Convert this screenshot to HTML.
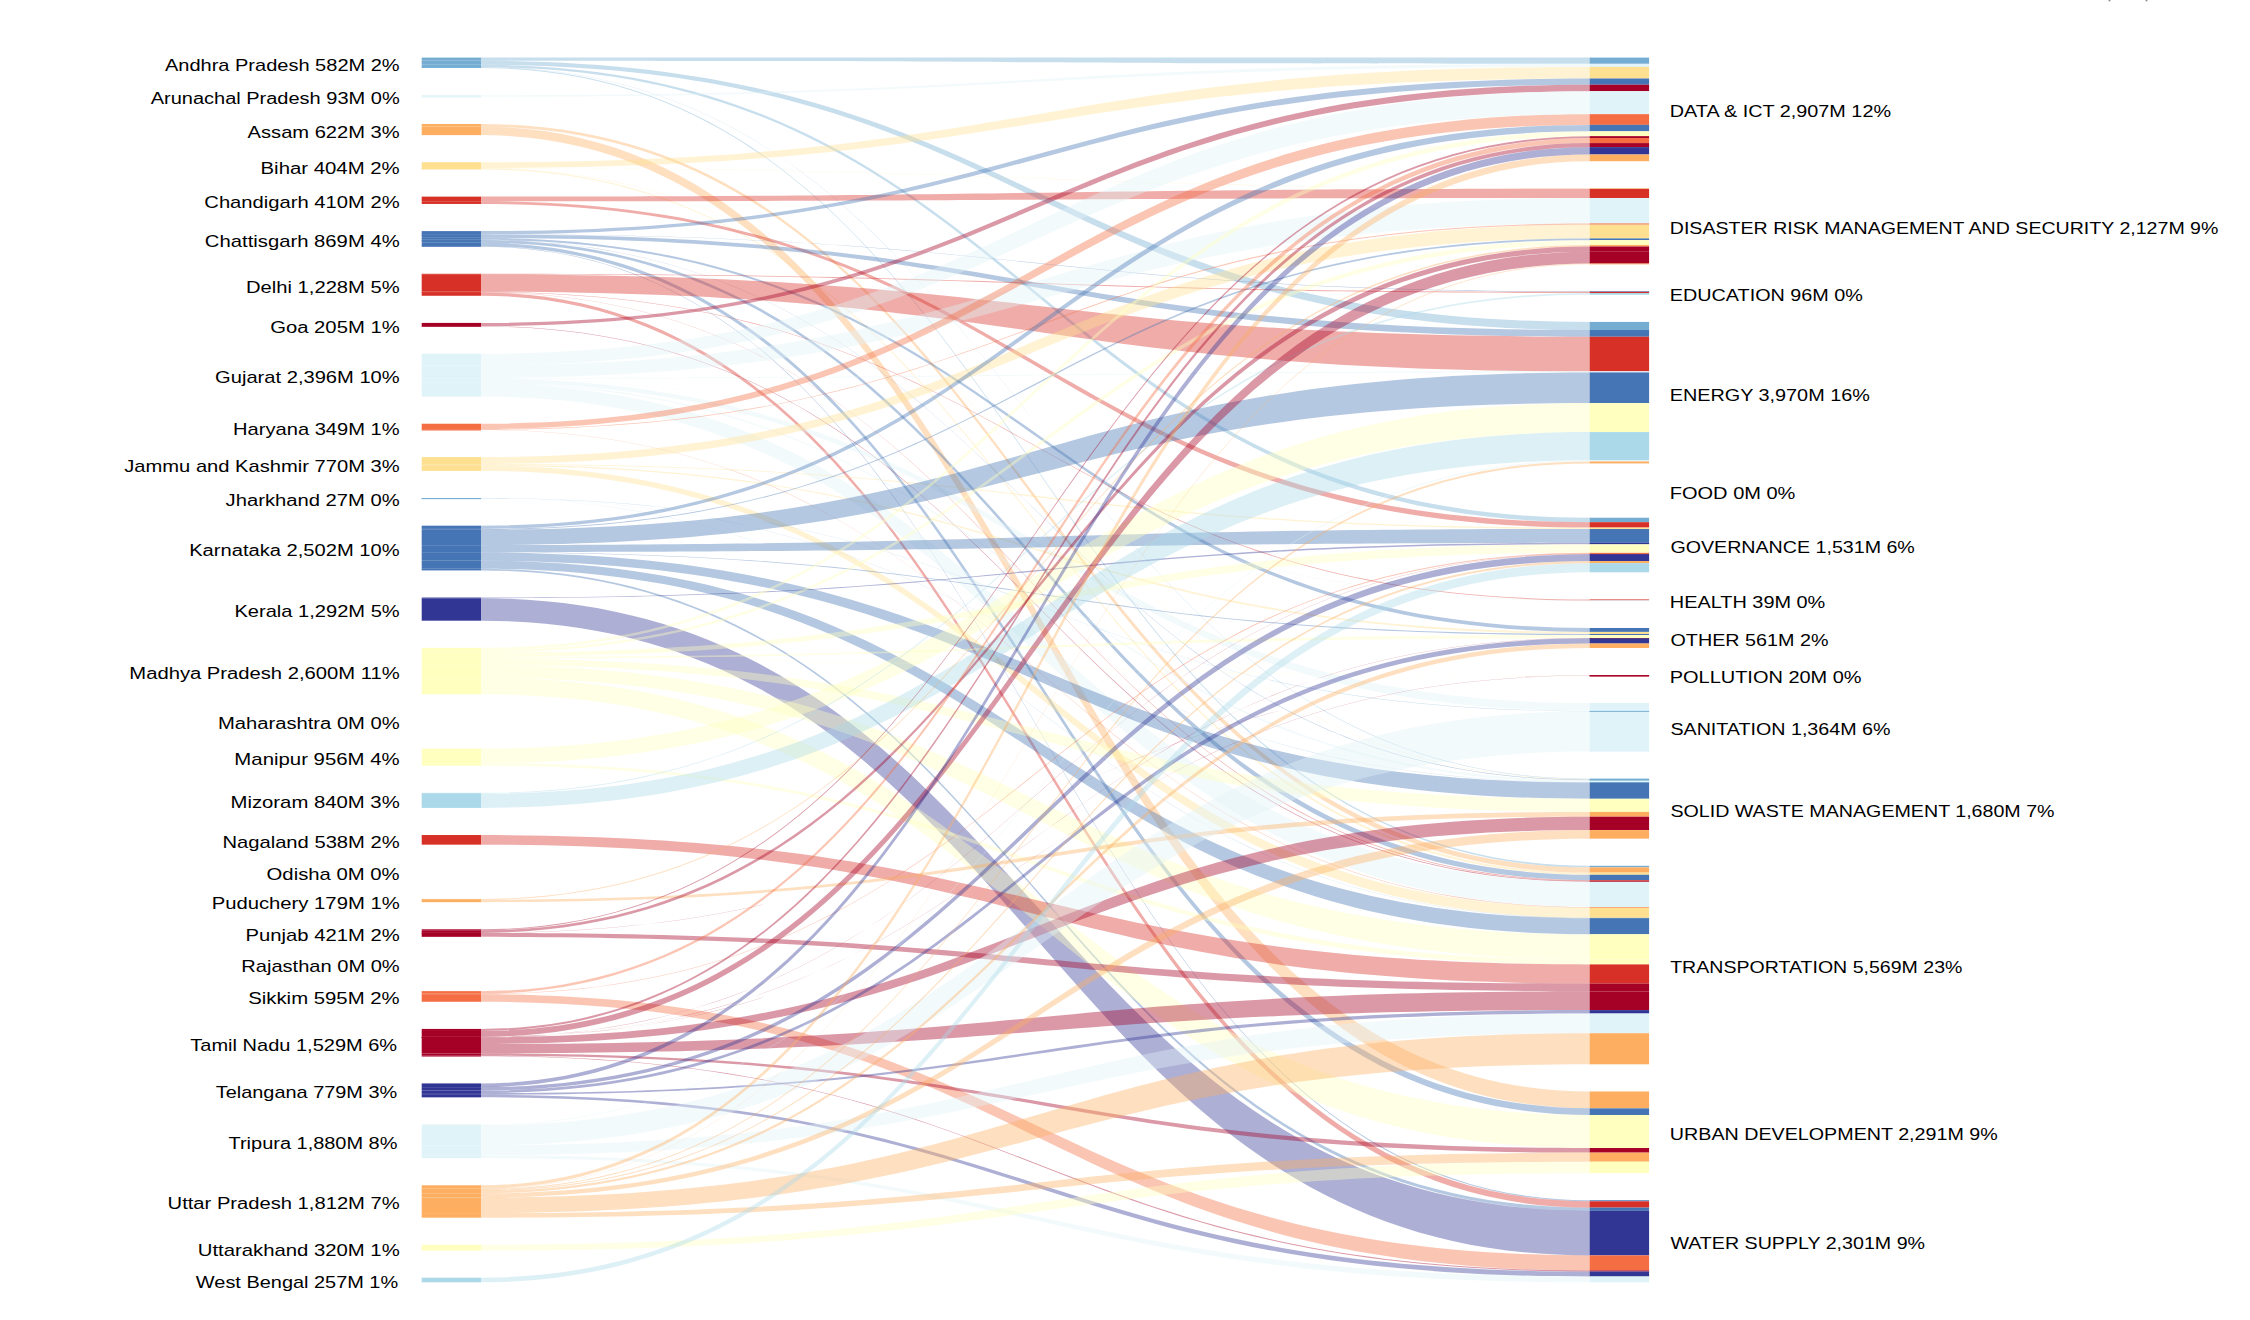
<!DOCTYPE html>
<html><head><meta charset="utf-8"><title>Sankey</title>
<style>
html,body{margin:0;padding:0;background:#fff;}
body{width:2250px;height:1320px;overflow:hidden;}
svg{display:block;position:absolute;left:0;top:0;}
.links path{fill-opacity:.4;stroke:none;}
.labels text{font-family:"Liberation Sans",Arial,Helvetica,sans-serif;font-size:16px;fill:#000;}
</style></head><body>
<svg width="2250" height="1320" viewBox="0 0 2250 1320">
<g class="links">
<path d="M481,57.6C1035.3,57.6 1035.3,57.6 1589.6,57.6L1589.6,63.82C1035.3,63.82 1035.3,60.72 481,60.72Z" fill="#74add1"/>
<path d="M481,60.72C1035.3,60.72 1035.3,321.91 1589.6,321.91L1589.6,330.02C1035.3,330.02 1035.3,64.79 481,64.79Z" fill="#74add1"/>
<path d="M481,64.79C1035.3,64.79 1035.3,517.73 1589.6,517.73L1589.6,522.18C1035.3,522.18 1035.3,67.02 481,67.02Z" fill="#74add1"/>
<path d="M481,67.02C1035.3,67.02 1035.3,778.77 1589.6,778.77L1589.6,779.18C1035.3,779.18 1035.3,67.22 481,67.22Z" fill="#74add1"/>
<path d="M481,67.22C1035.3,67.22 1035.3,865.8 1589.6,865.8L1589.6,867.37C1035.3,867.37 1035.3,68.01 481,68.01Z" fill="#74add1"/>
<path d="M481,95.16C1035.3,95.16 1035.3,63.82 1589.6,63.82L1589.6,66.93C1035.3,66.93 1035.3,96.72 481,96.72Z" fill="#e0f3f8"/>
<path d="M481,96.72C1035.3,96.72 1035.3,779.18 1589.6,779.18L1589.6,779.38C1035.3,779.38 1035.3,96.82 481,96.82Z" fill="#e0f3f8"/>
<path d="M481,123.97C1035.3,123.97 1035.3,867.37 1589.6,867.37L1589.6,872.64C1035.3,872.64 1035.3,126.62 481,126.62Z" fill="#fdae61"/>
<path d="M481,126.62C1035.3,126.62 1035.3,1091.47 1589.6,1091.47L1589.6,1108.37C1035.3,1108.37 1035.3,135.1 481,135.1Z" fill="#fdae61"/>
<path d="M481,162.25C1035.3,162.25 1035.3,66.93 1589.6,66.93L1589.6,78.49C1035.3,78.49 1035.3,168.04 481,168.04Z" fill="#fee090"/>
<path d="M481,168.04C1035.3,168.04 1035.3,188.37 1589.6,188.37L1589.6,188.78C1035.3,188.78 1035.3,168.25 481,168.25Z" fill="#fee090"/>
<path d="M481,168.25C1035.3,168.25 1035.3,779.38 1589.6,779.38L1589.6,779.67C1035.3,779.67 1035.3,168.4 481,168.4Z" fill="#fee090"/>
<path d="M481,168.4C1035.3,168.4 1035.3,872.64 1589.6,872.64L1589.6,874.78C1035.3,874.78 1035.3,169.47 481,169.47Z" fill="#fee090"/>
<path d="M481,196.62C1035.3,196.62 1035.3,188.78 1589.6,188.78L1589.6,197.99C1035.3,197.99 1035.3,201.24 481,201.24Z" fill="#d73027"/>
<path d="M481,201.24C1035.3,201.24 1035.3,522.18 1589.6,522.18L1589.6,527.58C1035.3,527.58 1035.3,203.95 481,203.95Z" fill="#d73027"/>
<path d="M481,231.1C1035.3,231.1 1035.3,78.49 1589.6,78.49L1589.6,84.7C1035.3,84.7 1035.3,234.22 481,234.22Z" fill="#4575b4"/>
<path d="M481,234.22C1035.3,234.22 1035.3,291.34 1589.6,291.34L1589.6,291.84C1035.3,291.84 1035.3,234.47 481,234.47Z" fill="#4575b4"/>
<path d="M481,234.47C1035.3,234.47 1035.3,330.02 1589.6,330.02L1589.6,336.73C1035.3,336.73 1035.3,237.84 481,237.84Z" fill="#4575b4"/>
<path d="M481,237.84C1035.3,237.84 1035.3,627.99 1589.6,627.99L1589.6,631.91C1035.3,631.91 1035.3,239.81 481,239.81Z" fill="#4575b4"/>
<path d="M481,239.81C1035.3,239.81 1035.3,779.67 1589.6,779.67L1589.6,780.17C1035.3,780.17 1035.3,240.05 481,240.05Z" fill="#4575b4"/>
<path d="M481,240.05C1035.3,240.05 1035.3,874.78 1589.6,874.78L1589.6,880.22C1035.3,880.22 1035.3,242.79 481,242.79Z" fill="#4575b4"/>
<path d="M481,242.79C1035.3,242.79 1035.3,1108.37 1589.6,1108.37L1589.6,1115.02C1035.3,1115.02 1035.3,246.13 481,246.13Z" fill="#4575b4"/>
<path d="M481,246.13C1035.3,246.13 1035.3,1200.28 1589.6,1200.28L1589.6,1201.31C1035.3,1201.31 1035.3,246.64 481,246.64Z" fill="#4575b4"/>
<path d="M481,273.79C1035.3,273.79 1035.3,291.84 1589.6,291.84L1589.6,292.98C1035.3,292.98 1035.3,274.37 481,274.37Z" fill="#d73027"/>
<path d="M481,274.37C1035.3,274.37 1035.3,336.73 1589.6,336.73L1589.6,371.3C1035.3,371.3 1035.3,291.71 481,291.71Z" fill="#d73027"/>
<path d="M481,291.71C1035.3,291.71 1035.3,599.45 1589.6,599.45L1589.6,600.4C1035.3,600.4 1035.3,292.19 481,292.19Z" fill="#d73027"/>
<path d="M481,292.19C1035.3,292.19 1035.3,880.22 1589.6,880.22L1589.6,881.02C1035.3,881.02 1035.3,292.59 481,292.59Z" fill="#d73027"/>
<path d="M481,292.59C1035.3,292.59 1035.3,1201.31 1589.6,1201.31L1589.6,1207.63C1035.3,1207.63 1035.3,295.76 481,295.76Z" fill="#d73027"/>
<path d="M481,322.91C1035.3,322.91 1035.3,84.7 1589.6,84.7L1589.6,91.18C1035.3,91.18 1035.3,326.16 481,326.16Z" fill="#a50026"/>
<path d="M481,326.16C1035.3,326.16 1035.3,881.02 1589.6,881.02L1589.6,881.84C1035.3,881.84 1035.3,326.57 481,326.57Z" fill="#a50026"/>
<path d="M481,353.72C1035.3,353.72 1035.3,91.18 1589.6,91.18L1589.6,114.16C1035.3,114.16 1035.3,365.25 481,365.25Z" fill="#e0f3f8"/>
<path d="M481,365.25C1035.3,365.25 1035.3,197.99 1589.6,197.99L1589.6,223.45C1035.3,223.45 1035.3,378.03 481,378.03Z" fill="#e0f3f8"/>
<path d="M481,378.03C1035.3,378.03 1035.3,371.3 1589.6,371.3L1589.6,372.44C1035.3,372.44 1035.3,378.6 481,378.6Z" fill="#e0f3f8"/>
<path d="M481,378.6C1035.3,378.6 1035.3,600.4 1589.6,600.4L1589.6,600.84C1035.3,600.84 1035.3,378.82 481,378.82Z" fill="#e0f3f8"/>
<path d="M481,378.82C1035.3,378.82 1035.3,703 1589.6,703L1589.6,710.94C1035.3,710.94 1035.3,382.8 481,382.8Z" fill="#e0f3f8"/>
<path d="M481,382.8C1035.3,382.8 1035.3,780.17 1589.6,780.17L1589.6,782.34C1035.3,782.34 1035.3,383.89 481,383.89Z" fill="#e0f3f8"/>
<path d="M481,383.89C1035.3,383.89 1035.3,881.84 1589.6,881.84L1589.6,907.12C1035.3,907.12 1035.3,396.57 481,396.57Z" fill="#e0f3f8"/>
<path d="M481,423.72C1035.3,423.72 1035.3,114.16 1589.6,114.16L1589.6,124.88C1035.3,124.88 1035.3,429.1 481,429.1Z" fill="#f46d43"/>
<path d="M481,429.1C1035.3,429.1 1035.3,223.45 1589.6,223.45L1589.6,224.67C1035.3,224.67 1035.3,429.71 481,429.71Z" fill="#f46d43"/>
<path d="M481,429.71C1035.3,429.71 1035.3,907.12 1589.6,907.12L1589.6,907.62C1035.3,907.62 1035.3,429.96 481,429.96Z" fill="#f46d43"/>
<path d="M481,457.11C1035.3,457.11 1035.3,224.67 1589.6,224.67L1589.6,238.42C1035.3,238.42 1035.3,464.01 481,464.01Z" fill="#fee090"/>
<path d="M481,464.01C1035.3,464.01 1035.3,527.58 1589.6,527.58L1589.6,529.01C1035.3,529.01 1035.3,464.73 481,464.73Z" fill="#fee090"/>
<path d="M481,464.73C1035.3,464.73 1035.3,631.91 1589.6,631.91L1589.6,633.95C1035.3,633.95 1035.3,465.75 481,465.75Z" fill="#fee090"/>
<path d="M481,465.75C1035.3,465.75 1035.3,907.62 1589.6,907.62L1589.6,917.85C1035.3,917.85 1035.3,470.88 481,470.88Z" fill="#fee090"/>
<path d="M481,498.03C1035.3,498.03 1035.3,710.94 1589.6,710.94L1589.6,711.3C1035.3,711.3 1035.3,498.21 481,498.21Z" fill="#74add1"/>
<path d="M481,498.21C1035.3,498.21 1035.3,782.34 1589.6,782.34L1589.6,782.59C1035.3,782.59 1035.3,498.34 481,498.34Z" fill="#74add1"/>
<path d="M481,498.34C1035.3,498.34 1035.3,917.85 1589.6,917.85L1589.6,918.21C1035.3,918.21 1035.3,498.52 481,498.52Z" fill="#74add1"/>
<path d="M481,525.67C1035.3,525.67 1035.3,124.88 1589.6,124.88L1589.6,131.32C1035.3,131.32 1035.3,528.9 481,528.9Z" fill="#4575b4"/>
<path d="M481,528.9C1035.3,528.9 1035.3,238.42 1589.6,238.42L1589.6,240.15C1035.3,240.15 1035.3,529.76 481,529.76Z" fill="#4575b4"/>
<path d="M481,529.76C1035.3,529.76 1035.3,372.44 1589.6,372.44L1589.6,403.07C1035.3,403.07 1035.3,545.13 481,545.13Z" fill="#4575b4"/>
<path d="M481,545.13C1035.3,545.13 1035.3,529.01 1589.6,529.01L1589.6,542.85C1035.3,542.85 1035.3,552.07 481,552.07Z" fill="#4575b4"/>
<path d="M481,552.07C1035.3,552.07 1035.3,633.95 1589.6,633.95L1589.6,635.06C1035.3,635.06 1035.3,552.63 481,552.63Z" fill="#4575b4"/>
<path d="M481,552.63C1035.3,552.63 1035.3,782.59 1589.6,782.59L1589.6,798.78C1035.3,798.78 1035.3,560.75 481,560.75Z" fill="#4575b4"/>
<path d="M481,560.75C1035.3,560.75 1035.3,918.21 1589.6,918.21L1589.6,934.26C1035.3,934.26 1035.3,568.8 481,568.8Z" fill="#4575b4"/>
<path d="M481,568.8C1035.3,568.8 1035.3,1207.63 1589.6,1207.63L1589.6,1210.84C1035.3,1210.84 1035.3,570.41 481,570.41Z" fill="#4575b4"/>
<path d="M481,597.56C1035.3,597.56 1035.3,542.85 1589.6,542.85L1589.6,544.35C1035.3,544.35 1035.3,598.32 481,598.32Z" fill="#313695"/>
<path d="M481,598.32C1035.3,598.32 1035.3,1210.84 1589.6,1210.84L1589.6,1255.39C1035.3,1255.39 1035.3,620.67 481,620.67Z" fill="#313695"/>
<path d="M481,647.82C1035.3,647.82 1035.3,131.32 1589.6,131.32L1589.6,136.13C1035.3,136.13 1035.3,650.23 481,650.23Z" fill="#ffffbf"/>
<path d="M481,650.23C1035.3,650.23 1035.3,240.15 1589.6,240.15L1589.6,244.93C1035.3,244.93 1035.3,652.63 481,652.63Z" fill="#ffffbf"/>
<path d="M481,652.63C1035.3,652.63 1035.3,544.35 1589.6,544.35L1589.6,552.84C1035.3,552.84 1035.3,656.89 481,656.89Z" fill="#ffffbf"/>
<path d="M481,656.89C1035.3,656.89 1035.3,635.06 1589.6,635.06L1589.6,638.06C1035.3,638.06 1035.3,658.4 481,658.4Z" fill="#ffffbf"/>
<path d="M481,658.4C1035.3,658.4 1035.3,675.14 1589.6,675.14L1589.6,675.49C1035.3,675.49 1035.3,658.58 481,658.58Z" fill="#ffffbf"/>
<path d="M481,658.58C1035.3,658.58 1035.3,798.78 1589.6,798.78L1589.6,811.91C1035.3,811.91 1035.3,665.16 481,665.16Z" fill="#ffffbf"/>
<path d="M481,665.16C1035.3,665.16 1035.3,934.26 1589.6,934.26L1589.6,959.37C1035.3,959.37 1035.3,677.76 481,677.76Z" fill="#ffffbf"/>
<path d="M481,677.76C1035.3,677.76 1035.3,1115.02 1589.6,1115.02L1589.6,1148.03C1035.3,1148.03 1035.3,694.32 481,694.32Z" fill="#ffffbf"/>
<path d="M481,748.62C1035.3,748.62 1035.3,403.07 1589.6,403.07L1589.6,432.1C1035.3,432.1 1035.3,763.18 481,763.18Z" fill="#ffffbf"/>
<path d="M481,763.18C1035.3,763.18 1035.3,959.37 1589.6,959.37L1589.6,964.42C1035.3,964.42 1035.3,765.71 481,765.71Z" fill="#ffffbf"/>
<path d="M481,792.86C1035.3,792.86 1035.3,292.98 1589.6,292.98L1589.6,294.76C1035.3,294.76 1035.3,793.75 481,793.75Z" fill="#abd9e9"/>
<path d="M481,793.75C1035.3,793.75 1035.3,432.1 1589.6,432.1L1589.6,460.26C1035.3,460.26 1035.3,807.89 481,807.89Z" fill="#abd9e9"/>
<path d="M481,835.04C1035.3,835.04 1035.3,964.42 1589.6,964.42L1589.6,983.59C1035.3,983.59 1035.3,844.66 481,844.66Z" fill="#d73027"/>
<path d="M481,898.96C1035.3,898.96 1035.3,244.93 1589.6,244.93L1589.6,246.51C1035.3,246.51 1035.3,899.75 481,899.75Z" fill="#fdae61"/>
<path d="M481,899.75C1035.3,899.75 1035.3,811.91 1589.6,811.91L1589.6,816.71C1035.3,816.71 1035.3,902.16 481,902.16Z" fill="#fdae61"/>
<path d="M481,929.31C1035.3,929.31 1035.3,136.13 1589.6,136.13L1589.6,138C1035.3,138 1035.3,930.25 481,930.25Z" fill="#a50026"/>
<path d="M481,930.25C1035.3,930.25 1035.3,246.51 1589.6,246.51L1589.6,251.76C1035.3,251.76 1035.3,932.88 481,932.88Z" fill="#a50026"/>
<path d="M481,932.88C1035.3,932.88 1035.3,675.49 1589.6,675.49L1589.6,675.64C1035.3,675.64 1035.3,932.95 481,932.95Z" fill="#a50026"/>
<path d="M481,932.95C1035.3,932.95 1035.3,983.59 1589.6,983.59L1589.6,991.34C1035.3,991.34 1035.3,936.84 481,936.84Z" fill="#a50026"/>
<path d="M481,991.14C1035.3,991.14 1035.3,138 1589.6,138L1589.6,143.1C1035.3,143.1 1035.3,993.7 481,993.7Z" fill="#f46d43"/>
<path d="M481,993.7C1035.3,993.7 1035.3,552.84 1589.6,552.84L1589.6,553.91C1035.3,553.91 1035.3,994.23 481,994.23Z" fill="#f46d43"/>
<path d="M481,994.23C1035.3,994.23 1035.3,1255.39 1589.6,1255.39L1589.6,1270.43C1035.3,1270.43 1035.3,1001.78 481,1001.78Z" fill="#f46d43"/>
<path d="M481,1028.93C1035.3,1028.93 1035.3,143.1 1589.6,143.1L1589.6,147.13C1035.3,147.13 1035.3,1030.95 481,1030.95Z" fill="#a50026"/>
<path d="M481,1030.95C1035.3,1030.95 1035.3,251.76 1589.6,251.76L1589.6,263.59C1035.3,263.59 1035.3,1036.89 481,1036.89Z" fill="#a50026"/>
<path d="M481,1036.89C1035.3,1036.89 1035.3,553.91 1589.6,553.91L1589.6,554.21C1035.3,554.21 1035.3,1037.04 481,1037.04Z" fill="#a50026"/>
<path d="M481,1037.04C1035.3,1037.04 1035.3,638.06 1589.6,638.06L1589.6,638.37C1035.3,638.37 1035.3,1037.19 481,1037.19Z" fill="#a50026"/>
<path d="M481,1037.19C1035.3,1037.19 1035.3,675.64 1589.6,675.64L1589.6,675.85C1035.3,675.85 1035.3,1037.29 481,1037.29Z" fill="#a50026"/>
<path d="M481,1037.29C1035.3,1037.29 1035.3,816.71 1589.6,816.71L1589.6,830.1C1035.3,830.1 1035.3,1044.01 481,1044.01Z" fill="#a50026"/>
<path d="M481,1044.01C1035.3,1044.01 1035.3,991.34 1589.6,991.34L1589.6,1010.1C1035.3,1010.1 1035.3,1053.42 481,1053.42Z" fill="#a50026"/>
<path d="M481,1053.42C1035.3,1053.42 1035.3,1148.03 1589.6,1148.03L1589.6,1152.62C1035.3,1152.62 1035.3,1055.73 481,1055.73Z" fill="#a50026"/>
<path d="M481,1055.73C1035.3,1055.73 1035.3,1270.43 1589.6,1270.43L1589.6,1271.52C1035.3,1271.52 1035.3,1056.27 481,1056.27Z" fill="#a50026"/>
<path d="M481,1083.42C1035.3,1083.42 1035.3,147.13 1589.6,147.13L1589.6,154.49C1035.3,154.49 1035.3,1087.12 481,1087.12Z" fill="#313695"/>
<path d="M481,1087.12C1035.3,1087.12 1035.3,554.21 1589.6,554.21L1589.6,561.06C1035.3,561.06 1035.3,1090.55 481,1090.55Z" fill="#313695"/>
<path d="M481,1090.55C1035.3,1090.55 1035.3,638.37 1589.6,638.37L1589.6,643.51C1035.3,643.51 1035.3,1093.13 481,1093.13Z" fill="#313695"/>
<path d="M481,1093.13C1035.3,1093.13 1035.3,1010.1 1589.6,1010.1L1589.6,1013.54C1035.3,1013.54 1035.3,1094.86 481,1094.86Z" fill="#313695"/>
<path d="M481,1094.86C1035.3,1094.86 1035.3,1271.52 1589.6,1271.52L1589.6,1276.49C1035.3,1276.49 1035.3,1097.35 481,1097.35Z" fill="#313695"/>
<path d="M481,1124.5C1035.3,1124.5 1035.3,460.26 1589.6,460.26L1589.6,461.47C1035.3,461.47 1035.3,1125.11 481,1125.11Z" fill="#e0f3f8"/>
<path d="M481,1125.11C1035.3,1125.11 1035.3,711.3 1589.6,711.3L1589.6,751.62C1035.3,751.62 1035.3,1145.34 481,1145.34Z" fill="#e0f3f8"/>
<path d="M481,1145.34C1035.3,1145.34 1035.3,1013.54 1589.6,1013.54L1589.6,1033.21C1035.3,1033.21 1035.3,1155.21 481,1155.21Z" fill="#e0f3f8"/>
<path d="M481,1155.21C1035.3,1155.21 1035.3,1276.49 1589.6,1276.49L1589.6,1282.3C1035.3,1282.3 1035.3,1158.13 481,1158.13Z" fill="#e0f3f8"/>
<path d="M481,1185.28C1035.3,1185.28 1035.3,154.49 1589.6,154.49L1589.6,161.22C1035.3,161.22 1035.3,1188.65 481,1188.65Z" fill="#fdae61"/>
<path d="M481,1188.65C1035.3,1188.65 1035.3,263.59 1589.6,263.59L1589.6,264.19C1035.3,264.19 1035.3,1188.95 481,1188.95Z" fill="#fdae61"/>
<path d="M481,1188.95C1035.3,1188.95 1035.3,461.47 1589.6,461.47L1589.6,463.43C1035.3,463.43 1035.3,1189.93 481,1189.93Z" fill="#fdae61"/>
<path d="M481,1189.93C1035.3,1189.93 1035.3,561.06 1589.6,561.06L1589.6,563.14C1035.3,563.14 1035.3,1190.98 481,1190.98Z" fill="#fdae61"/>
<path d="M481,1190.98C1035.3,1190.98 1035.3,643.51 1589.6,643.51L1589.6,647.99C1035.3,647.99 1035.3,1193.22 481,1193.22Z" fill="#fdae61"/>
<path d="M481,1193.22C1035.3,1193.22 1035.3,830.1 1589.6,830.1L1589.6,838.65C1035.3,838.65 1035.3,1197.51 481,1197.51Z" fill="#fdae61"/>
<path d="M481,1197.51C1035.3,1197.51 1035.3,1033.21 1589.6,1033.21L1589.6,1064.32C1035.3,1064.32 1035.3,1213.11 481,1213.11Z" fill="#fdae61"/>
<path d="M481,1213.11C1035.3,1213.11 1035.3,1152.62 1589.6,1152.62L1589.6,1161.72C1035.3,1161.72 1035.3,1217.68 481,1217.68Z" fill="#fdae61"/>
<path d="M481,1244.83C1035.3,1244.83 1035.3,1161.72 1589.6,1161.72L1589.6,1173.13C1035.3,1173.13 1035.3,1250.55 481,1250.55Z" fill="#ffffbf"/>
<path d="M481,1277.7C1035.3,1277.7 1035.3,563.14 1589.6,563.14L1589.6,572.3C1035.3,572.3 1035.3,1282.3 481,1282.3Z" fill="#abd9e9"/>
</g>
<g class="nodes">
<rect x="421.7" y="57.6" width="59.3" height="3.12" fill="#74add1"/>
<rect x="421.7" y="60.72" width="59.3" height="4.07" fill="#74add1"/>
<rect x="421.7" y="64.79" width="59.3" height="2.23" fill="#74add1"/>
<rect x="421.7" y="67.02" width="59.3" height="0.8" fill="#74add1"/>
<rect x="421.7" y="67.22" width="59.3" height="0.8" fill="#74add1"/>
<rect x="421.7" y="95.16" width="59.3" height="1.56" fill="#e0f3f8"/>
<rect x="421.7" y="96.72" width="59.3" height="0.8" fill="#e0f3f8"/>
<rect x="421.7" y="123.97" width="59.3" height="2.64" fill="#fdae61"/>
<rect x="421.7" y="126.62" width="59.3" height="8.48" fill="#fdae61"/>
<rect x="421.7" y="162.25" width="59.3" height="5.8" fill="#fee090"/>
<rect x="421.7" y="168.04" width="59.3" height="0.8" fill="#fee090"/>
<rect x="421.7" y="168.25" width="59.3" height="0.8" fill="#fee090"/>
<rect x="421.7" y="168.4" width="59.3" height="1.07" fill="#fee090"/>
<rect x="421.7" y="196.62" width="59.3" height="4.62" fill="#d73027"/>
<rect x="421.7" y="201.24" width="59.3" height="2.71" fill="#d73027"/>
<rect x="421.7" y="231.1" width="59.3" height="3.12" fill="#4575b4"/>
<rect x="421.7" y="234.22" width="59.3" height="0.8" fill="#4575b4"/>
<rect x="421.7" y="234.47" width="59.3" height="3.37" fill="#4575b4"/>
<rect x="421.7" y="237.84" width="59.3" height="1.97" fill="#4575b4"/>
<rect x="421.7" y="239.81" width="59.3" height="0.8" fill="#4575b4"/>
<rect x="421.7" y="240.05" width="59.3" height="2.73" fill="#4575b4"/>
<rect x="421.7" y="242.79" width="59.3" height="3.34" fill="#4575b4"/>
<rect x="421.7" y="246.13" width="59.3" height="0.8" fill="#4575b4"/>
<rect x="421.7" y="273.79" width="59.3" height="0.8" fill="#d73027"/>
<rect x="421.7" y="274.37" width="59.3" height="17.34" fill="#d73027"/>
<rect x="421.7" y="291.71" width="59.3" height="0.8" fill="#d73027"/>
<rect x="421.7" y="292.19" width="59.3" height="0.8" fill="#d73027"/>
<rect x="421.7" y="292.59" width="59.3" height="3.17" fill="#d73027"/>
<rect x="421.7" y="322.91" width="59.3" height="3.25" fill="#a50026"/>
<rect x="421.7" y="326.16" width="59.3" height="0.8" fill="#a50026"/>
<rect x="421.7" y="353.72" width="59.3" height="11.53" fill="#e0f3f8"/>
<rect x="421.7" y="365.25" width="59.3" height="12.77" fill="#e0f3f8"/>
<rect x="421.7" y="378.03" width="59.3" height="0.8" fill="#e0f3f8"/>
<rect x="421.7" y="378.6" width="59.3" height="0.8" fill="#e0f3f8"/>
<rect x="421.7" y="378.82" width="59.3" height="3.98" fill="#e0f3f8"/>
<rect x="421.7" y="382.8" width="59.3" height="1.09" fill="#e0f3f8"/>
<rect x="421.7" y="383.89" width="59.3" height="12.68" fill="#e0f3f8"/>
<rect x="421.7" y="423.72" width="59.3" height="5.38" fill="#f46d43"/>
<rect x="421.7" y="429.1" width="59.3" height="0.8" fill="#f46d43"/>
<rect x="421.7" y="429.71" width="59.3" height="0.8" fill="#f46d43"/>
<rect x="421.7" y="457.11" width="59.3" height="6.9" fill="#fee090"/>
<rect x="421.7" y="464.01" width="59.3" height="0.8" fill="#fee090"/>
<rect x="421.7" y="464.73" width="59.3" height="1.02" fill="#fee090"/>
<rect x="421.7" y="465.75" width="59.3" height="5.13" fill="#fee090"/>
<rect x="421.7" y="498.03" width="59.3" height="0.8" fill="#74add1"/>
<rect x="421.7" y="498.21" width="59.3" height="0.8" fill="#74add1"/>
<rect x="421.7" y="498.34" width="59.3" height="0.8" fill="#74add1"/>
<rect x="421.7" y="525.67" width="59.3" height="3.23" fill="#4575b4"/>
<rect x="421.7" y="528.9" width="59.3" height="0.87" fill="#4575b4"/>
<rect x="421.7" y="529.76" width="59.3" height="15.37" fill="#4575b4"/>
<rect x="421.7" y="545.13" width="59.3" height="6.94" fill="#4575b4"/>
<rect x="421.7" y="552.07" width="59.3" height="0.8" fill="#4575b4"/>
<rect x="421.7" y="552.63" width="59.3" height="8.12" fill="#4575b4"/>
<rect x="421.7" y="560.75" width="59.3" height="8.05" fill="#4575b4"/>
<rect x="421.7" y="568.8" width="59.3" height="1.61" fill="#4575b4"/>
<rect x="421.7" y="597.56" width="59.3" height="0.8" fill="#313695"/>
<rect x="421.7" y="598.32" width="59.3" height="22.35" fill="#313695"/>
<rect x="421.7" y="647.82" width="59.3" height="2.42" fill="#ffffbf"/>
<rect x="421.7" y="650.23" width="59.3" height="2.4" fill="#ffffbf"/>
<rect x="421.7" y="652.63" width="59.3" height="4.26" fill="#ffffbf"/>
<rect x="421.7" y="656.89" width="59.3" height="1.51" fill="#ffffbf"/>
<rect x="421.7" y="658.4" width="59.3" height="0.8" fill="#ffffbf"/>
<rect x="421.7" y="658.58" width="59.3" height="6.59" fill="#ffffbf"/>
<rect x="421.7" y="665.16" width="59.3" height="12.6" fill="#ffffbf"/>
<rect x="421.7" y="677.76" width="59.3" height="16.56" fill="#ffffbf"/>
<rect x="421.7" y="748.62" width="59.3" height="14.56" fill="#ffffbf"/>
<rect x="421.7" y="763.18" width="59.3" height="2.53" fill="#ffffbf"/>
<rect x="421.7" y="792.86" width="59.3" height="0.89" fill="#abd9e9"/>
<rect x="421.7" y="793.75" width="59.3" height="14.13" fill="#abd9e9"/>
<rect x="421.7" y="835.04" width="59.3" height="9.62" fill="#d73027"/>
<rect x="421.7" y="898.96" width="59.3" height="0.8" fill="#fdae61"/>
<rect x="421.7" y="899.75" width="59.3" height="2.41" fill="#fdae61"/>
<rect x="421.7" y="929.31" width="59.3" height="0.94" fill="#a50026"/>
<rect x="421.7" y="930.25" width="59.3" height="2.63" fill="#a50026"/>
<rect x="421.7" y="932.88" width="59.3" height="0.8" fill="#a50026"/>
<rect x="421.7" y="932.95" width="59.3" height="3.88" fill="#a50026"/>
<rect x="421.7" y="991.14" width="59.3" height="2.56" fill="#f46d43"/>
<rect x="421.7" y="993.7" width="59.3" height="0.8" fill="#f46d43"/>
<rect x="421.7" y="994.23" width="59.3" height="7.55" fill="#f46d43"/>
<rect x="421.7" y="1028.93" width="59.3" height="2.02" fill="#a50026"/>
<rect x="421.7" y="1030.95" width="59.3" height="5.94" fill="#a50026"/>
<rect x="421.7" y="1036.89" width="59.3" height="0.8" fill="#a50026"/>
<rect x="421.7" y="1037.04" width="59.3" height="0.8" fill="#a50026"/>
<rect x="421.7" y="1037.19" width="59.3" height="0.8" fill="#a50026"/>
<rect x="421.7" y="1037.29" width="59.3" height="6.72" fill="#a50026"/>
<rect x="421.7" y="1044.01" width="59.3" height="9.41" fill="#a50026"/>
<rect x="421.7" y="1053.42" width="59.3" height="2.3" fill="#a50026"/>
<rect x="421.7" y="1055.73" width="59.3" height="0.8" fill="#a50026"/>
<rect x="421.7" y="1083.42" width="59.3" height="3.7" fill="#313695"/>
<rect x="421.7" y="1087.12" width="59.3" height="3.43" fill="#313695"/>
<rect x="421.7" y="1090.55" width="59.3" height="2.58" fill="#313695"/>
<rect x="421.7" y="1093.13" width="59.3" height="1.73" fill="#313695"/>
<rect x="421.7" y="1094.86" width="59.3" height="2.49" fill="#313695"/>
<rect x="421.7" y="1124.5" width="59.3" height="0.8" fill="#e0f3f8"/>
<rect x="421.7" y="1125.11" width="59.3" height="20.23" fill="#e0f3f8"/>
<rect x="421.7" y="1145.34" width="59.3" height="9.87" fill="#e0f3f8"/>
<rect x="421.7" y="1155.21" width="59.3" height="2.92" fill="#e0f3f8"/>
<rect x="421.7" y="1185.28" width="59.3" height="3.38" fill="#fdae61"/>
<rect x="421.7" y="1188.65" width="59.3" height="0.8" fill="#fdae61"/>
<rect x="421.7" y="1188.95" width="59.3" height="0.98" fill="#fdae61"/>
<rect x="421.7" y="1189.93" width="59.3" height="1.04" fill="#fdae61"/>
<rect x="421.7" y="1190.98" width="59.3" height="2.24" fill="#fdae61"/>
<rect x="421.7" y="1193.22" width="59.3" height="4.29" fill="#fdae61"/>
<rect x="421.7" y="1197.51" width="59.3" height="15.6" fill="#fdae61"/>
<rect x="421.7" y="1213.11" width="59.3" height="4.57" fill="#fdae61"/>
<rect x="421.7" y="1244.83" width="59.3" height="5.72" fill="#ffffbf"/>
<rect x="421.7" y="1277.7" width="59.3" height="4.6" fill="#abd9e9"/>
<rect x="1589.6" y="57.6" width="59.5" height="6.22" fill="#74add1"/>
<rect x="1589.6" y="321.91" width="59.5" height="8.11" fill="#74add1"/>
<rect x="1589.6" y="517.73" width="59.5" height="4.45" fill="#74add1"/>
<rect x="1589.6" y="778.77" width="59.5" height="0.8" fill="#74add1"/>
<rect x="1589.6" y="865.8" width="59.5" height="1.56" fill="#74add1"/>
<rect x="1589.6" y="63.82" width="59.5" height="3.11" fill="#e0f3f8"/>
<rect x="1589.6" y="779.18" width="59.5" height="0.8" fill="#e0f3f8"/>
<rect x="1589.6" y="867.37" width="59.5" height="5.27" fill="#fdae61"/>
<rect x="1589.6" y="1091.47" width="59.5" height="16.9" fill="#fdae61"/>
<rect x="1589.6" y="66.93" width="59.5" height="11.56" fill="#fee090"/>
<rect x="1589.6" y="188.37" width="59.5" height="0.8" fill="#fee090"/>
<rect x="1589.6" y="779.38" width="59.5" height="0.8" fill="#fee090"/>
<rect x="1589.6" y="872.64" width="59.5" height="2.14" fill="#fee090"/>
<rect x="1589.6" y="188.78" width="59.5" height="9.21" fill="#d73027"/>
<rect x="1589.6" y="522.18" width="59.5" height="5.41" fill="#d73027"/>
<rect x="1589.6" y="78.49" width="59.5" height="6.21" fill="#4575b4"/>
<rect x="1589.6" y="291.34" width="59.5" height="0.8" fill="#4575b4"/>
<rect x="1589.6" y="330.02" width="59.5" height="6.71" fill="#4575b4"/>
<rect x="1589.6" y="627.99" width="59.5" height="3.92" fill="#4575b4"/>
<rect x="1589.6" y="779.67" width="59.5" height="0.8" fill="#4575b4"/>
<rect x="1589.6" y="874.78" width="59.5" height="5.45" fill="#4575b4"/>
<rect x="1589.6" y="1108.37" width="59.5" height="6.66" fill="#4575b4"/>
<rect x="1589.6" y="1200.28" width="59.5" height="1.04" fill="#4575b4"/>
<rect x="1589.6" y="291.84" width="59.5" height="1.15" fill="#d73027"/>
<rect x="1589.6" y="336.73" width="59.5" height="34.57" fill="#d73027"/>
<rect x="1589.6" y="599.45" width="59.5" height="0.96" fill="#d73027"/>
<rect x="1589.6" y="880.22" width="59.5" height="0.8" fill="#d73027"/>
<rect x="1589.6" y="1201.31" width="59.5" height="6.31" fill="#d73027"/>
<rect x="1589.6" y="84.7" width="59.5" height="6.48" fill="#a50026"/>
<rect x="1589.6" y="881.02" width="59.5" height="0.83" fill="#a50026"/>
<rect x="1589.6" y="91.18" width="59.5" height="22.98" fill="#e0f3f8"/>
<rect x="1589.6" y="197.99" width="59.5" height="25.46" fill="#e0f3f8"/>
<rect x="1589.6" y="371.3" width="59.5" height="1.14" fill="#e0f3f8"/>
<rect x="1589.6" y="600.4" width="59.5" height="0.8" fill="#e0f3f8"/>
<rect x="1589.6" y="703" width="59.5" height="7.94" fill="#e0f3f8"/>
<rect x="1589.6" y="780.17" width="59.5" height="2.18" fill="#e0f3f8"/>
<rect x="1589.6" y="881.84" width="59.5" height="25.27" fill="#e0f3f8"/>
<rect x="1589.6" y="114.16" width="59.5" height="10.72" fill="#f46d43"/>
<rect x="1589.6" y="223.45" width="59.5" height="1.22" fill="#f46d43"/>
<rect x="1589.6" y="907.12" width="59.5" height="0.8" fill="#f46d43"/>
<rect x="1589.6" y="224.67" width="59.5" height="13.75" fill="#fee090"/>
<rect x="1589.6" y="527.58" width="59.5" height="1.42" fill="#fee090"/>
<rect x="1589.6" y="631.91" width="59.5" height="2.04" fill="#fee090"/>
<rect x="1589.6" y="907.62" width="59.5" height="10.23" fill="#fee090"/>
<rect x="1589.6" y="710.94" width="59.5" height="0.8" fill="#74add1"/>
<rect x="1589.6" y="782.34" width="59.5" height="0.8" fill="#74add1"/>
<rect x="1589.6" y="917.85" width="59.5" height="0.8" fill="#74add1"/>
<rect x="1589.6" y="124.88" width="59.5" height="6.44" fill="#4575b4"/>
<rect x="1589.6" y="238.42" width="59.5" height="1.73" fill="#4575b4"/>
<rect x="1589.6" y="372.44" width="59.5" height="30.63" fill="#4575b4"/>
<rect x="1589.6" y="529.01" width="59.5" height="13.84" fill="#4575b4"/>
<rect x="1589.6" y="633.95" width="59.5" height="1.11" fill="#4575b4"/>
<rect x="1589.6" y="782.59" width="59.5" height="16.19" fill="#4575b4"/>
<rect x="1589.6" y="918.21" width="59.5" height="16.05" fill="#4575b4"/>
<rect x="1589.6" y="1207.63" width="59.5" height="3.21" fill="#4575b4"/>
<rect x="1589.6" y="542.85" width="59.5" height="1.51" fill="#313695"/>
<rect x="1589.6" y="1210.84" width="59.5" height="44.55" fill="#313695"/>
<rect x="1589.6" y="131.32" width="59.5" height="4.81" fill="#ffffbf"/>
<rect x="1589.6" y="240.15" width="59.5" height="4.79" fill="#ffffbf"/>
<rect x="1589.6" y="544.35" width="59.5" height="8.49" fill="#ffffbf"/>
<rect x="1589.6" y="635.06" width="59.5" height="3" fill="#ffffbf"/>
<rect x="1589.6" y="675.14" width="59.5" height="0.8" fill="#ffffbf"/>
<rect x="1589.6" y="798.78" width="59.5" height="13.13" fill="#ffffbf"/>
<rect x="1589.6" y="934.26" width="59.5" height="25.11" fill="#ffffbf"/>
<rect x="1589.6" y="1115.02" width="59.5" height="33" fill="#ffffbf"/>
<rect x="1589.6" y="403.07" width="59.5" height="29.03" fill="#ffffbf"/>
<rect x="1589.6" y="959.37" width="59.5" height="5.05" fill="#ffffbf"/>
<rect x="1589.6" y="292.98" width="59.5" height="1.78" fill="#abd9e9"/>
<rect x="1589.6" y="432.1" width="59.5" height="28.17" fill="#abd9e9"/>
<rect x="1589.6" y="964.42" width="59.5" height="19.18" fill="#d73027"/>
<rect x="1589.6" y="244.93" width="59.5" height="1.58" fill="#fdae61"/>
<rect x="1589.6" y="811.91" width="59.5" height="4.8" fill="#fdae61"/>
<rect x="1589.6" y="136.13" width="59.5" height="1.87" fill="#a50026"/>
<rect x="1589.6" y="246.51" width="59.5" height="5.25" fill="#a50026"/>
<rect x="1589.6" y="675.49" width="59.5" height="0.8" fill="#a50026"/>
<rect x="1589.6" y="983.59" width="59.5" height="7.74" fill="#a50026"/>
<rect x="1589.6" y="138" width="59.5" height="5.1" fill="#f46d43"/>
<rect x="1589.6" y="552.84" width="59.5" height="1.07" fill="#f46d43"/>
<rect x="1589.6" y="1255.39" width="59.5" height="15.04" fill="#f46d43"/>
<rect x="1589.6" y="143.1" width="59.5" height="4.03" fill="#a50026"/>
<rect x="1589.6" y="251.76" width="59.5" height="11.83" fill="#a50026"/>
<rect x="1589.6" y="553.91" width="59.5" height="0.8" fill="#a50026"/>
<rect x="1589.6" y="638.06" width="59.5" height="0.8" fill="#a50026"/>
<rect x="1589.6" y="675.64" width="59.5" height="0.8" fill="#a50026"/>
<rect x="1589.6" y="816.71" width="59.5" height="13.39" fill="#a50026"/>
<rect x="1589.6" y="991.34" width="59.5" height="18.76" fill="#a50026"/>
<rect x="1589.6" y="1148.03" width="59.5" height="4.59" fill="#a50026"/>
<rect x="1589.6" y="1270.43" width="59.5" height="1.09" fill="#a50026"/>
<rect x="1589.6" y="147.13" width="59.5" height="7.37" fill="#313695"/>
<rect x="1589.6" y="554.21" width="59.5" height="6.84" fill="#313695"/>
<rect x="1589.6" y="638.37" width="59.5" height="5.15" fill="#313695"/>
<rect x="1589.6" y="1010.1" width="59.5" height="3.44" fill="#313695"/>
<rect x="1589.6" y="1271.52" width="59.5" height="4.97" fill="#313695"/>
<rect x="1589.6" y="460.26" width="59.5" height="1.21" fill="#e0f3f8"/>
<rect x="1589.6" y="711.3" width="59.5" height="40.32" fill="#e0f3f8"/>
<rect x="1589.6" y="1013.54" width="59.5" height="19.67" fill="#e0f3f8"/>
<rect x="1589.6" y="1276.49" width="59.5" height="5.81" fill="#e0f3f8"/>
<rect x="1589.6" y="154.49" width="59.5" height="6.73" fill="#fdae61"/>
<rect x="1589.6" y="263.59" width="59.5" height="0.8" fill="#fdae61"/>
<rect x="1589.6" y="461.47" width="59.5" height="1.95" fill="#fdae61"/>
<rect x="1589.6" y="561.06" width="59.5" height="2.08" fill="#fdae61"/>
<rect x="1589.6" y="643.51" width="59.5" height="4.47" fill="#fdae61"/>
<rect x="1589.6" y="830.1" width="59.5" height="8.55" fill="#fdae61"/>
<rect x="1589.6" y="1033.21" width="59.5" height="31.1" fill="#fdae61"/>
<rect x="1589.6" y="1152.62" width="59.5" height="9.1" fill="#fdae61"/>
<rect x="1589.6" y="1161.72" width="59.5" height="11.41" fill="#ffffbf"/>
<rect x="1589.6" y="563.14" width="59.5" height="9.16" fill="#abd9e9"/>
<rect x="1589.6" y="778.77" width="59.5" height="1.75" fill="#74add1"/>
<rect x="1589.6" y="710.94" width="59.5" height="0.85" fill="#74add1"/>
<rect x="1589.6" y="675.09" width="59.5" height="0.95" fill="#a50026"/>
</g>
<g class="labels">
<text text-anchor="end" transform="translate(399.67,70.8) scale(1.2521,1)">Andhra Pradesh 582M 2%</text>
<text text-anchor="end" transform="translate(399.67,103.99) scale(1.2501,1)">Arunachal Pradesh 93M 0%</text>
<text text-anchor="end" transform="translate(399.67,137.53) scale(1.2584,1)">Assam 622M 3%</text>
<text text-anchor="end" transform="translate(399.68,173.86) scale(1.2729,1)">Bihar 404M 2%</text>
<text text-anchor="end" transform="translate(399.68,208.29) scale(1.2627,1)">Chandigarh 410M 2%</text>
<text text-anchor="end" transform="translate(399.68,246.87) scale(1.2674,1)">Chattisgarh 869M 4%</text>
<text text-anchor="end" transform="translate(399.67,292.77) scale(1.2622,1)">Delhi 1,228M 5%</text>
<text text-anchor="end" transform="translate(399.68,332.74) scale(1.2662,1)">Goa 205M 1%</text>
<text text-anchor="end" transform="translate(399.67,383.15) scale(1.2588,1)">Gujarat 2,396M 10%</text>
<text text-anchor="end" transform="translate(399.67,434.84) scale(1.2585,1)">Haryana 349M 1%</text>
<text text-anchor="end" transform="translate(399.67,472) scale(1.2596,1)">Jammu and Kashmir 770M 3%</text>
<text text-anchor="end" transform="translate(399.68,506.27) scale(1.2640,1)">Jharkhand 27M 0%</text>
<text text-anchor="end" transform="translate(399.67,556.04) scale(1.2590,1)">Karnataka 2,502M 10%</text>
<text text-anchor="end" transform="translate(399.67,617.11) scale(1.2556,1)">Kerala 1,292M 5%</text>
<text text-anchor="end" transform="translate(399.68,679.07) scale(1.2637,1)">Madhya Pradesh 2,600M 11%</text>
<text text-anchor="end" transform="translate(399.67,729.47) scale(1.2613,1)">Maharashtra 0M 0%</text>
<text text-anchor="end" transform="translate(399.68,765.16) scale(1.2740,1)">Manipur 956M 4%</text>
<text text-anchor="end" transform="translate(399.68,808.37) scale(1.2702,1)">Mizoram 840M 3%</text>
<text text-anchor="end" transform="translate(399.67,847.85) scale(1.2622,1)">Nagaland 538M 2%</text>
<text text-anchor="end" transform="translate(399.68,879.81) scale(1.2698,1)">Odisha 0M 0%</text>
<text text-anchor="end" transform="translate(399.68,908.56) scale(1.2664,1)">Puduchery 179M 1%</text>
<text text-anchor="end" transform="translate(399.68,941.07) scale(1.2647,1)">Punjab 421M 2%</text>
<text text-anchor="end" transform="translate(399.67,971.99) scale(1.2549,1)">Rajasthan 0M 0%</text>
<text text-anchor="end" transform="translate(399.68,1004.46) scale(1.2719,1)">Sikkim 595M 2%</text>
<text text-anchor="end" transform="translate(397.17,1050.6) scale(1.2516,1)">Tamil Nadu 1,529M 6%</text>
<text text-anchor="end" transform="translate(397.17,1098.39) scale(1.2439,1)">Telangana 779M 3%</text>
<text text-anchor="end" transform="translate(397.47,1149.31) scale(1.2479,1)">Tripura 1,880M 8%</text>
<text text-anchor="end" transform="translate(399.67,1209.48) scale(1.2612,1)">Uttar Pradesh 1,812M 7%</text>
<text text-anchor="end" transform="translate(399.68,1255.69) scale(1.2696,1)">Uttarakhand 320M 1%</text>
<text text-anchor="end" transform="translate(398.17,1288) scale(1.2462,1)">West Bengal 257M 1%</text>
<text transform="translate(1669.78,117.41) scale(1.2380,1)">DATA &amp; ICT 2,907M 12%</text>
<text transform="translate(1669.79,234.28) scale(1.2239,1)">DISASTER RISK MANAGEMENT AND SECURITY 2,127M 9%</text>
<text transform="translate(1669.78,301.05) scale(1.2372,1)">EDUCATION 96M 0%</text>
<text transform="translate(1669.77,400.67) scale(1.2388,1)">ENERGY 3,970M 16%</text>
<text transform="translate(1669.76,498.58) scale(1.2521,1)">FOOD 0M 0%</text>
<text transform="translate(1670.43,553.01) scale(1.2274,1)">GOVERNANCE 1,531M 6%</text>
<text transform="translate(1669.77,608.14) scale(1.2447,1)">HEALTH 39M 0%</text>
<text transform="translate(1670.46,645.99) scale(1.2350,1)">OTHER 561M 2%</text>
<text transform="translate(1669.76,683.49) scale(1.2478,1)">POLLUTION 20M 0%</text>
<text transform="translate(1670.42,735.31) scale(1.2297,1)">SANITATION 1,364M 6%</text>
<text transform="translate(1670.42,816.71) scale(1.2285,1)">SOLID WASTE MANAGEMENT 1,680M 7%</text>
<text transform="translate(1670.18,973.06) scale(1.2224,1)">TRANSPORTATION 5,569M 23%</text>
<text transform="translate(1669.86,1140.3) scale(1.2307,1)">URBAN DEVELOPMENT 2,291M 9%</text>
<text transform="translate(1670.39,1249.29) scale(1.2281,1)">WATER SUPPLY 2,301M 9%</text>
</g>
<rect x="2108.6" y="0" width="1.8" height="1.3" fill="#8a8a8a"/><rect x="2145.6" y="0" width="1.8" height="1.3" fill="#8a8a8a"/>
</svg>
</body></html>
